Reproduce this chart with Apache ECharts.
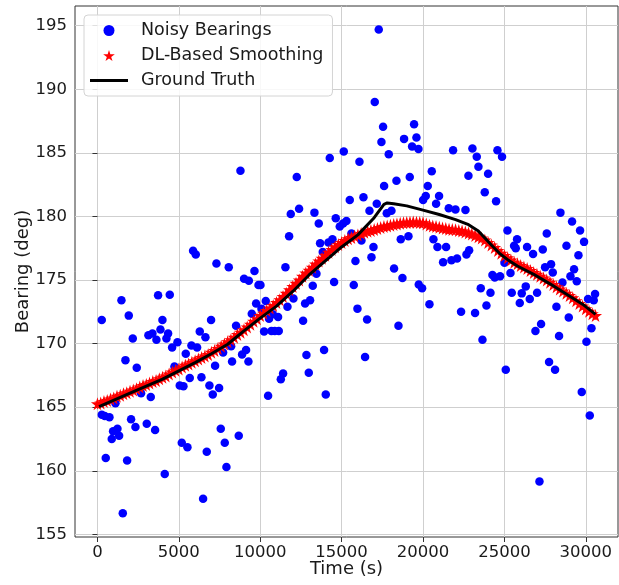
<!DOCTYPE html>
<html>
<head>
<meta charset="utf-8">
<script src="https://cdn.jsdelivr.net/npm/echarts@6/dist/echarts.min.js"></script>
<style>
  html, body { margin: 0; padding: 0; background: #fff; }
  #chart { width: 619px; height: 585px; }
</style>
</head>
<body>
<div id="chart"></div>
<script>
// tick labels
const xTicks = [0, 5000, 10000, 15000, 20000, 25000, 30000];
const yTicks = [155, 160, 165, 170, 175, 180, 185, 190, 195];

// noisy bearings (blue dots)
const noisyTime = [
  265, 1474, 1923, 3725, 4442, 2169, 3131, 3377, 3623, 3870, 3993, 4340, 4237, 4586, 4915,
  1720, 2414, 2680, 3275, 4729, 5425, 5773, 6121, 6285, 6633, 6981, 5670, 5056, 5282, 6387,
  6879, 7084, 7473, 7227, 7719, 8270, 8212, 8516, 8885, 9131, 9275, 9480, 9746, 9300, 9008,
  265, 449, 737, 1106, 961, 1228, 1331, 879, 510, 1822, 1556, 2066, 2333, 3029, 3541,
  4135, 5179, 5527, 6715, 6490, 7575, 7821, 8680, 7923,
  8785, 5874, 6039, 7310, 8066,
  12244, 14272, 15132, 16096, 17896, 17610, 18369, 19187, 11876, 12387, 13330, 13596, 14640, 14886, 15091,
  15296, 15501, 16342, 16711, 17159, 17774, 18062, 11774, 13678, 13842, 14190, 14437, 15603, 16219, 16957,
  16834, 15850, 18634, 19106, 18222, 18738, 19740, 15747, 14538, 13454, 11548, 13227, 13063, 12756, 12041,
  11673, 12633, 15973, 16565, 18493, 9646, 9892, 10015, 10340, 10076, 10542, 10770, 11096, 10237, 10690,
  10893, 11138, 12840, 13922, 11405, 11264, 12982, 16442, 10483, 14026,
  17282, 17036, 17547, 17446, 19452, 18837, 19597, 19330, 19720,
  21848, 23037, 23303, 23406, 24574, 24855, 22791, 23999, 23795, 24490, 20538, 20292, 20169, 20006, 20988,
  20804, 21583, 21995, 22609, 20641, 20887, 21419, 21235, 21747, 22093, 22834, 22670, 19944, 20397, 22339,
  23198, 23549, 24145, 23898, 23653, 24267, 24408, 24734, 25189, 25780, 25595, 25699, 25005, 25374, 26394,
  26762, 27358, 27604, 27499, 27868, 27972, 28444, 29157, 29649, 29894, 28813, 29550, 29280, 29059, 29446,
  28567, 27008, 26313, 26067, 25453, 25945, 26559, 28198, 28955, 27253, 26909, 28358, 30042, 30571, 30141,
  30350, 27745, 28113, 25085, 30490, 29754, 30245, 27155
];
const noisyBearing = [
  171.85, 173.4, 172.2, 173.8, 173.85, 170.4, 170.65, 170.8, 170.3, 171.1, 171.85, 170.8, 170.4, 169.7, 170.1,
  168.7, 168.1, 166.1, 165.8, 168.2, 169.2, 169.85, 169.7, 170.95, 170.5, 171.85, 167.3, 166.7, 166.65, 167.35,
  166.7, 166.0, 166.5, 168.25, 169.3, 168.6, 169.8, 171.4, 169.15, 169.5, 168.6, 172.35, 173.15, 174.95, 175.1,
  164.4, 164.3, 164.2, 165.3, 163.1, 163.3, 162.75, 162.5, 161.0, 160.8, 156.65, 164.05, 163.45, 163.7, 163.2,
  159.75, 162.2, 161.85, 161.5, 157.8, 163.3, 162.2, 162.75, 160.3,
  183.6, 177.3, 177.0, 176.3, 176.0,
  183.1, 184.6, 185.1, 184.3, 184.9, 182.4, 182.8, 183.1, 180.2, 180.6, 180.3, 179.45, 179.85, 179.2, 179.45,
  179.65, 181.3, 181.5, 180.45, 181.0, 180.25, 180.45, 178.45, 177.9, 177.2, 177.95, 178.2, 178.65, 178.1, 177.6,
  176.8, 176.5, 178.2, 178.45, 175.9, 175.15, 174.65, 174.6, 174.85, 175.5, 176.0, 174.55, 173.4, 173.15, 173.55,
  172.9, 171.8, 172.75, 171.9, 171.4, 175.7, 174.6, 174.6, 173.35, 172.75, 171.95, 172.3, 172.1, 170.95, 171.0,
  171.0, 171.0, 169.1, 169.5, 167.65, 167.2, 167.7, 168.95, 165.9, 166.0,
  194.7, 189.0, 187.05, 185.85, 187.25, 186.1, 186.2, 185.5, 185.3,
  185.2, 185.35, 184.7, 183.9, 185.2, 184.7, 183.2, 183.35, 181.9, 181.2, 183.55, 182.4, 181.6, 181.3, 181.6,
  181.0, 180.65, 180.55, 180.5, 178.2, 177.6, 177.6, 176.4, 176.55, 176.7, 177.35, 177.0, 174.35, 173.1, 172.5,
  172.4, 174.35, 174.0, 173.0, 170.3, 175.4, 175.2, 175.3, 178.9, 178.2, 177.7, 177.5, 176.35, 175.55, 177.6,
  177.05, 177.4, 178.65, 176.0, 176.25, 175.6, 180.3, 179.6, 178.9, 178.0, 177.7, 176.95, 175.85, 175.3, 174.9,
  174.8, 174.0, 174.5, 173.95, 174.0, 173.2, 173.5, 172.9, 172.05, 171.55, 171.0, 170.6, 170.15, 173.9, 173.5,
  171.2, 168.55, 167.95, 167.95, 173.4, 166.2, 164.35, 159.15
];

// DL-based smoothing (red stars)
const smoothTime = [
  0, 200, 400, 600, 800, 1000, 1200, 1400, 1600, 1800, 2000, 2200, 2400, 2600, 2800, 3000,
  3200, 3400, 3600, 3800, 4000, 4200, 4400, 4600, 4800, 5000, 5200, 5400, 5600, 5800, 6000,
  6200, 6400, 6600, 6800, 7000, 7200, 7400, 7600, 7800, 8000, 8200, 8400, 8600, 8800, 9000,
  9200, 9400, 9600, 9800, 10000, 10200, 10400, 10600, 10800, 11000, 11200, 11400, 11600, 11800, 12000,
  12200, 12400, 12600, 12800, 13000, 13200, 13400, 13600, 13800, 14000, 14200, 14400, 14600, 14800, 15000,
  15200, 15400, 15600, 15800, 16000, 16200, 16400, 16600, 16800, 17000, 17200, 17400, 17600, 17800, 18000,
  18200, 18400, 18600, 18800, 19000, 19200, 19400, 19600, 19800, 20000, 20200, 20400, 20600, 20800, 21000,
  21200, 21400, 21600, 21800, 22000, 22200, 22400, 22600, 22800, 23000, 23200, 23400, 23600, 23800, 24000,
  24200, 24400, 24600, 24800, 25000, 25200, 25400, 25600, 25800, 26000, 26200, 26400, 26600, 26800, 27000,
  27200, 27400, 27600, 27800, 28000, 28200, 28400, 28600, 28800, 29000, 29200, 29400, 29600, 29800, 30000,
  30200, 30400, 30600
];
const smoothBearing = [
  165.27, 165.33, 165.45, 165.52, 165.65, 165.72, 165.85, 165.93, 166.05, 166.13, 166.25, 166.36, 166.45, 166.58, 166.7, 166.78,
  166.9, 167.02, 167.1, 167.24, 167.35, 167.46, 167.6, 167.76, 167.9, 168.01, 168.15, 168.29, 168.4, 168.53, 168.65,
  168.79, 168.9, 169.02, 169.15, 169.31, 169.45, 169.62, 169.8, 169.97, 170.15, 170.31, 170.5, 170.71, 170.9, 171.09,
  171.3, 171.53, 171.75, 171.96, 172.2, 172.39, 172.6, 172.8, 173.0, 173.23, 173.45, 173.71, 173.95, 174.23, 174.5,
  174.74, 175.0, 175.29, 175.55, 175.76, 176.0, 176.26, 176.5, 176.71, 176.95, 177.19, 177.4, 177.62, 177.8, 177.96,
  178.1, 178.24, 178.35, 178.46, 178.55, 178.66, 178.75, 178.83, 178.9, 178.98, 179.05, 179.13, 179.2, 179.25, 179.3,
  179.36, 179.4, 179.46, 179.5, 179.52, 179.55, 179.56, 179.55, 179.53, 179.5, 179.4, 179.3, 179.25, 179.2, 179.15,
  179.1, 179.05, 179.0, 178.97, 178.95, 178.9, 178.85, 178.78, 178.7, 178.61, 178.5, 178.41, 178.3, 178.14, 177.95,
  177.76, 177.55, 177.32, 177.1, 176.92, 176.75, 176.57, 176.4, 176.27, 176.15, 176.03, 175.9, 175.75, 175.6, 175.46,
  175.3, 175.16, 175.0, 174.83, 174.65, 174.48, 174.3, 174.13, 173.95, 173.78, 173.6, 173.37, 173.15, 172.95, 172.75,
  172.55, 172.35, 172.2
];

// ground truth (black line)
const truthTime = [
  100, 2000, 4000, 5000, 6000, 7000, 8000, 9000, 10000, 11000, 12000, 13000, 14000, 15000, 16000, 17000,
  17600, 17800, 18200, 19000, 20000, 21000, 22000, 22800, 23400, 23800, 24200, 24700, 25200, 25800,
  26800, 27800, 28800, 29800, 30600
];
const truthBearing = [
  165.05, 166.1, 167.2, 167.85, 168.5, 169.2, 169.95, 171.0, 172.0, 172.95, 174.1, 175.4, 176.5, 177.6, 178.55, 179.9,
  180.95, 181.06, 181.0, 180.83, 180.5, 180.15, 179.75, 179.35, 178.85, 178.3, 177.75, 177.1, 176.6, 176.1,
  175.45, 174.7, 173.9, 173.1, 172.3
];

const starPath = "path://M50,0 L61,35 L98,35 L68,57 L79,91 L50,70 L21,91 L32,57 L2,35 L39,35 Z";
const lineIcon = "path://M0,0 L38,0 L38,3 L0,3 Z";
const font = "DejaVu Sans";

let myChart = echarts.init(document.getElementById("chart"), null, { renderer: "canvas" });

let noisyData = noisyTime.map((t, i) => [t, noisyBearing[i]]);
let smoothData = smoothTime.map((t, i) => [t, smoothBearing[i]]);
let truthData = truthTime.map((t, i) => [t, truthBearing[i]]);

let option = {
  animation: false,
  backgroundColor: "#fff",
  grid: {
    left: 75,
    right: 1,
    top: 6,
    bottom: 48,
    show: true,
    borderColor: "#333",
    borderWidth: 1,
    containLabel: false,
    outerBoundsMode: "none",
  },
  legend: {
    orient: "vertical",
    left: 84,
    top: 15,
    padding: [6, 9, 6, 6],
    itemGap: 6,
    itemWidth: 38,
    itemHeight: 11,
    backgroundColor: "rgba(255,255,255,0.85)",
    borderColor: "#d4d4d4",
    borderWidth: 1,
    borderRadius: 4,
    textStyle: {
      fontFamily: font,
      fontSize: 17.5,
      lineHeight: 19,
      color: "#1a1a1a",
      padding: [0, 0, 0, 8],
    },
    data: [
      { name: "Noisy Bearings", icon: "circle" },
      { name: "DL-Based Smoothing", icon: starPath },
      { name: "Ground Truth", icon: lineIcon },
    ],
  },
  xAxis: {
    type: "value",
    min: -1380,
    max: 31980,
    splitNumber: 6,
    name: "Time (s)",
    nameLocation: "middle",
    nameGap: 23,
    nameMoveOverlap: false,
    nameTextStyle: { fontFamily: font, fontSize: 18, color: "#1a1a1a" },
    axisLine: { show: false },
    axisTick: {
      show: true,
      length: 5,
      customValues: xTicks,
      lineStyle: { color: "#333" },
    },
    axisLabel: {
      customValues: xTicks,
      margin: 7,
      fontFamily: font,
      fontSize: 16.5,
      color: "#1a1a1a",
      formatter: function (value) {
        return String(value);
      },
    },
    splitLine: { show: true, lineStyle: { color: "#cfcfcf", width: 1 } },
  },
  yAxis: {
    type: "value",
    min: 154.79,
    max: 196.55,
    splitNumber: 8,
    name: "Bearing (deg)",
    nameLocation: "middle",
    nameGap: 43,
    nameMoveOverlap: false,
    nameTextStyle: { fontFamily: font, fontSize: 18, color: "#1a1a1a" },
    axisLine: { show: false },
    axisTick: {
      show: true,
      length: 5,
      customValues: yTicks,
      lineStyle: { color: "#333" },
    },
    axisLabel: {
      customValues: yTicks,
      margin: 8,
      fontFamily: font,
      fontSize: 16.5,
      color: "#1a1a1a",
      formatter: function (value) {
        return String(value);
      },
    },
    splitLine: { show: true, lineStyle: { color: "#cfcfcf", width: 1 } },
  },
  series: [
    {
      name: "Noisy Bearings",
      type: "scatter",
      symbol: "circle",
      symbolSize: 8.5,
      itemStyle: { color: "#0000ff", opacity: 1 },
      data: noisyData,
      z: 2,
    },
    {
      name: "DL-Based Smoothing",
      type: "scatter",
      symbol: starPath,
      symbolSize: 13,
      itemStyle: { color: "#ff0000", opacity: 1 },
      data: smoothData,
      z: 3,
    },
    {
      name: "Ground Truth",
      type: "line",
      showSymbol: false,
      smooth: false,
      lineStyle: { color: "#000", width: 3 },
      itemStyle: { color: "#000" },
      data: truthData,
      z: 4,
    },
  ],
};

myChart.setOption(option);
</script>
</body>
</html>
